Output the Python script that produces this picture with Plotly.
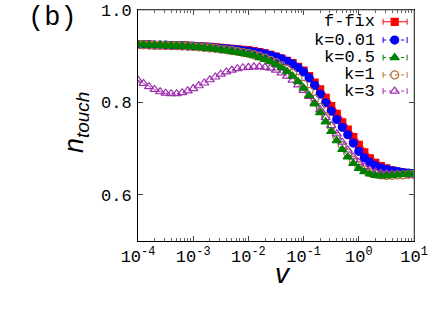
import numpy as np
import plotly.graph_objects as go

# sampling grid of v (log-spaced, 10 points per decade)
v = np.logspace(-4, 1, 51)

f_fix = [0.925, 0.925, 0.925, 0.924, 0.924, 0.924, 0.924, 0.923, 0.923, 0.923,
         0.922, 0.922, 0.921, 0.920, 0.919, 0.918, 0.917, 0.916, 0.915, 0.914,
         0.913, 0.911, 0.909, 0.906, 0.903, 0.899, 0.895, 0.890, 0.885, 0.877,
         0.869, 0.857, 0.843, 0.828, 0.810, 0.792, 0.775, 0.757, 0.741, 0.725,
         0.708, 0.692, 0.679, 0.669, 0.662, 0.657, 0.653, 0.650, 0.648, 0.647,
         0.646]
k001 = [0.925, 0.925, 0.925, 0.924, 0.924, 0.924, 0.923, 0.923, 0.923, 0.922,
        0.922, 0.921, 0.920, 0.919, 0.918, 0.917, 0.916, 0.915, 0.914, 0.912,
        0.911, 0.909, 0.907, 0.905, 0.902, 0.898, 0.894, 0.889, 0.883, 0.875,
        0.866, 0.853, 0.837, 0.818, 0.799, 0.781, 0.763, 0.746, 0.730, 0.712,
        0.694, 0.680, 0.670, 0.663, 0.658, 0.655, 0.652, 0.650, 0.648, 0.647,
        0.646]
k05 = [0.925, 0.925, 0.924, 0.924, 0.924, 0.923, 0.923, 0.922, 0.922, 0.921,
       0.920, 0.919, 0.918, 0.917, 0.915, 0.914, 0.912, 0.910, 0.908, 0.906,
       0.904, 0.901, 0.897, 0.893, 0.888, 0.882, 0.875, 0.867, 0.857, 0.845,
       0.831, 0.815, 0.797, 0.778, 0.758, 0.737, 0.717, 0.698, 0.682, 0.668,
       0.657, 0.650, 0.645, 0.642, 0.641, 0.641, 0.642, 0.643, 0.644, 0.645,
       0.645]
k1 = [0.925, 0.925, 0.924, 0.924, 0.924, 0.923, 0.923, 0.923, 0.922, 0.922,
      0.921, 0.920, 0.919, 0.918, 0.917, 0.915, 0.914, 0.912, 0.910, 0.908,
      0.906, 0.903, 0.900, 0.896, 0.891, 0.886, 0.879, 0.872, 0.863, 0.852,
      0.839, 0.824, 0.807, 0.789, 0.769, 0.748, 0.727, 0.707, 0.690, 0.675,
      0.663, 0.654, 0.648, 0.645, 0.643, 0.642, 0.642, 0.643, 0.643, 0.644,
      0.644]
k3 = [0.848, 0.841, 0.834, 0.828, 0.823, 0.820, 0.819, 0.819, 0.821, 0.825,
      0.830, 0.836, 0.842, 0.849, 0.855, 0.861, 0.866, 0.870, 0.873, 0.875,
      0.876, 0.877, 0.877, 0.876, 0.874, 0.870, 0.864, 0.857, 0.848, 0.838,
      0.826, 0.813, 0.799, 0.784, 0.767, 0.750, 0.732, 0.714, 0.697, 0.682,
      0.670, 0.661, 0.654, 0.650, 0.647, 0.646, 0.645, 0.645, 0.645, 0.645,
      0.645]

labels = ["f-fix", "k=0.01", "k=0.5", "k=1", "k=3"]
series = [f_fix, k001, k05, k1, k3]
colors = ["#ff0000", "#0000ff", "#008000", "#b8733b", "#a030b0"]
symbols = ["square", "circle", "triangle-up", "circle-open", "triangle-up-open"]
sizes = [7, 8, 8, 8, 8]
dashes = ["solid", "dot", "dot", "dot", "dot"]
line_w = [5, 1, 1, 1, 1]

x_tickvals = [1e-4, 1e-3, 1e-2, 1e-1, 1, 10]
x_ticktext = ["10<sup>-4</sup>", "10<sup>-3</sup>", "10<sup>-2</sup>",
              "10<sup>-1</sup>", "10<sup>0</sup>", "10<sup>1</sup>"]
y_tickvals = [0.6, 0.8, 1.0]
y_ticktext = ["0.6", "0.8", "1.0"]

MONO = "Courier New, Liberation Mono, monospace"
SANS = "Liberation Sans, Arial, sans-serif"

fig = go.Figure()

order = [0, 1, 3, 4, 2]
for i in order:
    fig.add_trace(go.Scatter(
        x=v, y=series[i], mode="lines+markers",
        line=dict(color=colors[i], width=line_w[i], dash=dashes[i]),
        marker=dict(symbol=symbols[i], size=sizes[i], color=colors[i],
                    line=dict(color=colors[i], width=1.2)),
        showlegend=False, xaxis="x", yaxis="y"))

# custom gnuplot-style key: text on the left, sample on the right
key_y = [0.949, 0.870, 0.794, 0.719, 0.649]
kx0, kx1, kxm = 0.888, 0.975, 0.930
for i, lab in enumerate(labels):
    fig.add_trace(go.Scatter(
        x=[kx0, kx1], y=[key_y[i], key_y[i]], mode="lines",
        line=dict(color=colors[i], width=1, dash=dashes[i]),
        showlegend=False, xaxis="x2", yaxis="y2", hoverinfo="skip"))
    for cx in (kx0, kx1):
        fig.add_trace(go.Scatter(
            x=[cx, cx], y=[key_y[i] - 0.013, key_y[i] + 0.013], mode="lines",
            line=dict(color=colors[i], width=1),
            showlegend=False, xaxis="x2", yaxis="y2", hoverinfo="skip"))
    fig.add_trace(go.Scatter(
        x=[kxm], y=[key_y[i]], mode="markers",
        marker=dict(symbol=symbols[i], size=sizes[i], color=colors[i],
                    line=dict(color=colors[i], width=1.2)),
        showlegend=False, xaxis="x2", yaxis="y2", hoverinfo="skip"))
    fig.add_annotation(x=0.866, y=key_y[i], xref="paper", yref="paper",
                       text=lab, showarrow=False, xanchor="right", yanchor="middle",
                       font=dict(family=MONO, size=17, color="#000"))

fig.add_annotation(x=-0.405, y=0.965, xref="paper", yref="paper", text="(b)",
                   showarrow=False, xanchor="left", yanchor="middle",
                   font=dict(family=MONO, size=27, color="#000"))
fig.add_annotation(x=-0.225, y=0.515, xref="paper", yref="paper",
                   text="<i>n<sub>touch</sub></i>", textangle=-90,
                   showarrow=False, xanchor="center", yanchor="middle",
                   font=dict(family=SANS, size=27, color="#000"))
fig.add_annotation(x=0.524, y=-0.139, xref="paper", yref="paper",
                   text="<i>v</i>", showarrow=False, xanchor="center", yanchor="middle",
                   font=dict(family=SANS, size=28, color="#000"))

# grey top/right border
fig.add_shape(type="line", xref="paper", yref="paper", x0=0, x1=1, y0=1, y1=1,
              line=dict(color="#888", width=1), layer="above")
fig.add_shape(type="line", xref="paper", yref="paper", x0=1, x1=1, y0=0, y1=1,
              line=dict(color="#888", width=1), layer="above")

fig.update_layout(
    width=436, height=312,
    margin=dict(l=138, r=22, t=10, b=71, autoexpand=False),
    paper_bgcolor="white", plot_bgcolor="white",
    xaxis=dict(type="log", range=[-4, 1], showgrid=False, zeroline=False,
               automargin=False,
               showline=True, linecolor="#000", linewidth=1, mirror="allticks",
               ticks="inside", ticklen=5, tickcolor="#444",
               tickvals=x_tickvals, ticktext=x_ticktext,
               minor=dict(ticks="inside", ticklen=3, tickcolor="#666",
                          tickvals=[m * 10.0 ** e for e in range(-4, 1) for m in range(2, 10)]),
               tickfont=dict(family=MONO, size=17, color="#000")),
    yaxis=dict(range=[0.5, 1.0], showgrid=False, zeroline=False,
               automargin=False,
               showline=True, linecolor="#000", linewidth=1, mirror="allticks",
               ticks="inside", ticklen=5, tickcolor="#444",
               tickvals=y_tickvals, ticktext=y_ticktext,
               tickfont=dict(family=MONO, size=17, color="#000"),
               ticklabelstandoff=2),
    xaxis2=dict(range=[0, 1], overlaying="x", visible=False, anchor="y2"),
    yaxis2=dict(range=[0, 1], overlaying="y", visible=False, anchor="x2"),
)

fig.write_html("out.html", config={"displayModeBar": False},
               post_script="document.body.style.margin='0';")
